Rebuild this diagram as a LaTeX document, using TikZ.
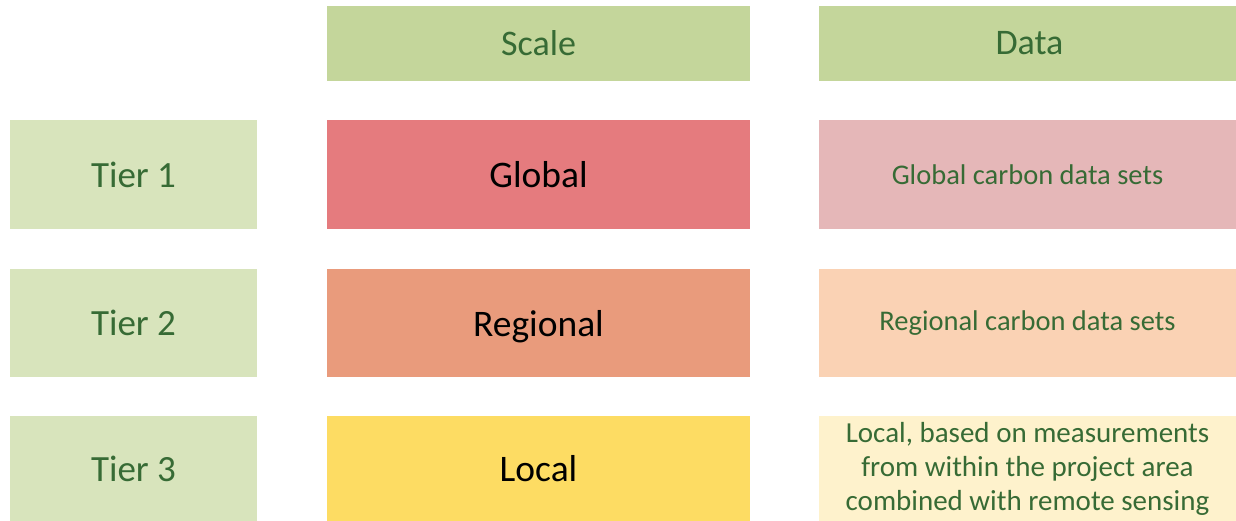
\documentclass[tikz,border=0pt]{standalone}
\usepackage{fontspec}
\setmainfont{Carlito}
\definecolor{hdr}{HTML}{C4D69B}
\definecolor{tierc}{HTML}{D8E4BC}
\definecolor{glob}{HTML}{E57B7E}
\definecolor{regi}{HTML}{E99B7C}
\definecolor{loca}{HTML}{FDDC63}
\definecolor{globd}{HTML}{E5B7B8}
\definecolor{regid}{HTML}{FAD2B4}
\definecolor{locad}{HTML}{FEF2CC}
\definecolor{txtg}{HTML}{376B35}
\tikzset{
  cell/.style={anchor=north west, inner sep=0pt, outer sep=0pt, align=center},
  hdrbox/.style={cell, fill=hdr, text=txtg, font=\fontsize{36}{42}\selectfont},
  tierbox/.style={cell, fill=tierc, text=txtg, minimum width=247pt, minimum height=109pt, font=\fontsize{37}{44}\selectfont},
  scalebox/.style={cell, text=black, minimum width=423pt, minimum height=109pt,
    text height=30pt, text depth=4pt, font=\fontsize{37.5}{44}\selectfont},
  databox/.style={cell, text=txtg, minimum width=417pt, minimum height=109pt, font=\fontsize{28.5}{34}\selectfont},
}
\begin{document}
\begin{tikzpicture}[x=1pt, y=-1pt]
  \useasboundingbox (0,0) rectangle (1236,521);
  % column headers
  \node[hdrbox, minimum width=423pt, minimum height=75pt] (hscale) at (327,6) {Scale};
  \node[hdrbox, minimum width=417pt, minimum height=75pt] (hdata) at (819,6) {\hspace{4pt}Data};
  % tier row 1
  \node[tierbox] (t1) at (10,120) {Tier 1};
  \node[scalebox, fill=glob] (s1) at (327,120) {Global};
  \node[databox, fill=globd] (d1) at (819,120) {Global carbon data sets};
  % tier row 2
  \node[tierbox, minimum height=108pt] (t2) at (10,269) {Tier 2};
  \node[scalebox, fill=regi, minimum height=108pt] (s2) at (327,269) {Regional};
  \node[databox, fill=regid, minimum height=108pt] (d2) at (819,269) {Regional carbon data sets};
  % tier row 3
  \node[tierbox, minimum height=105pt] (t3) at (10,416) {Tier 3};
  \node[scalebox, fill=loca, minimum height=105pt] (s3) at (327,416) {Local};
  \node[databox, fill=locad, minimum height=105pt, font=\fontsize{29}{34}\selectfont] (d3) at (819,416)
    {Local, based on measurements\\from within the project area\\combined with remote sensing};
\end{tikzpicture}
\end{document}
